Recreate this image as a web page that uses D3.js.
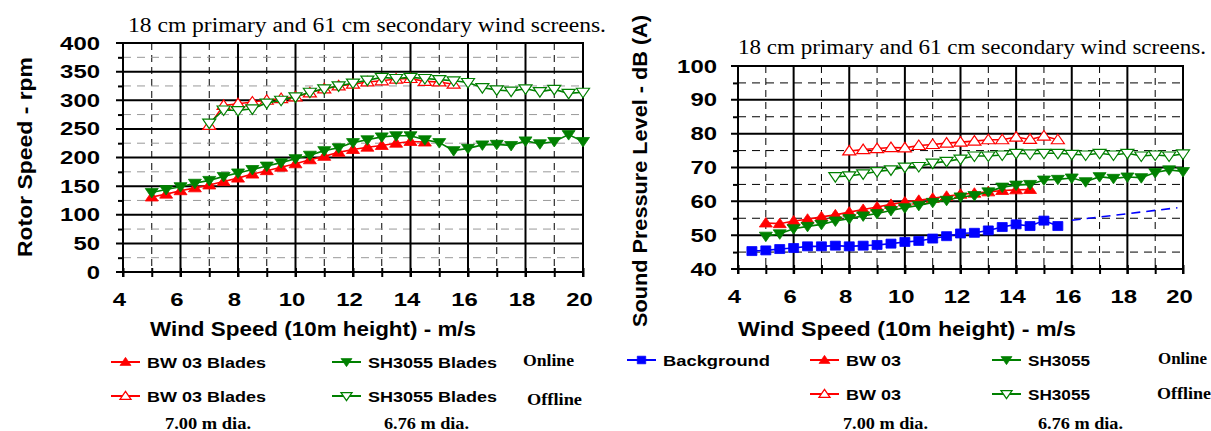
<!DOCTYPE html>
<html>
<head>
<meta charset="utf-8">
<script src="https://cdn.jsdelivr.net/npm/d3@7"></script>
<style>
  body { margin: 0; background: #fff; }
  text { font-family: "Liberation Sans", Arial, sans-serif; }
  .serif { font-family: "Liberation Serif", "Times New Roman", serif; }
</style>
</head>
<body>
<svg id="chart" width="1211" height="431"></svg>
<script>
// DATA
// ---------------------------------------------------------------------------------------------
const windTicks = [4, 6, 8, 10, 12, 14, 16, 18, 20];
const windMinor = [5, 7, 9, 11, 13, 15, 17, 19];
const rotorTicks = [0, 50, 100, 150, 200, 250, 300, 350, 400];
const rotorMinor = [25, 75, 125, 175, 225, 275, 325, 375];
const splTicks = [40, 50, 60, 70, 80, 90, 100];
const splMinor = [45, 55, 65, 75, 85, 95];

// rotor speed (rpm) vs wind speed (m/s)
const rotorBw03Online = [[5,131],[5.5,136],[6,142],[6.5,147],[7,152],[7.5,158],[8,164],[8.5,171],[9,177],[9.5,183],[10,189],[10.5,196],[11,202],[11.5,209],[12,214],[12.5,218],[13,221],[13.5,225],[14,228],[14.5,227]];
const rotorSh3055Online = [[5,139],[5.5,144],[6,149],[6.5,155],[7,160],[7.5,167],[8,173],[8.5,179],[9,185],[9.5,191],[10,198],[10.5,204],[11,212],[11.5,217],[12,226],[12.5,231],[13,236],[13.5,238],[14,238],[14.5,231],[15,226],[15.5,212],[16,216],[16.5,222],[17,223],[17.5,221],[18,229],[18.5,224],[19,228],[19.5,240],[20,228]];
const rotorBw03Offline = [[7,256],[7.5,291],[8,294],[8.5,297],[9,300],[9.5,303],[10,306],[10.5,313],[11,320],[11.5,325],[12,328],[12.5,332],[13,334],[13.5,337],[14,338],[14.5,333],[15,332],[15.5,328]];
const rotorSh3055Offline = [[7,260],[7.5,283],[8,282],[8.5,285],[9,295],[9.5,300],[10,306],[10.5,314],[11,320],[11.5,325],[12,330],[12.5,335],[13,340],[13.5,338],[14,340],[14.5,338],[15,336],[15.5,334],[16,331],[16.5,322],[17,318],[17.5,316],[18,320],[18.5,315],[19,319],[19.5,312],[20,314]];

// sound pressure level dB(A) vs wind speed (m/s)
const splBackground = [[4.5,45.3],[5,45.5],[5.5,45.9],[6,46.2],[6.5,46.7],[7,46.7],[7.5,46.9],[8,46.7],[8.5,46.9],[9,47.1],[9.5,47.5],[10,48.0],[10.5,48.3],[11,49.0],[11.5,49.7],[12,50.5],[12.5,50.7],[13,51.4],[13.5,52.4],[14,53.2],[14.5,52.7],[15,54.3],[15.5,52.7]];
const splBackgroundTrend = [[16,54.4],[19.8,58.1]];
const splBw03Online = [[5,53.6],[5.5,53.4],[6,54.2],[6.5,54.7],[7,55.4],[7.5,56.0],[8,56.8],[8.5,57.6],[9,58.3],[9.5,59.1],[10,59.8],[10.5,60.3],[11,60.9],[11.5,61.5],[12,62.1],[12.5,62.4],[13,62.8],[13.5,63.2],[14,63.4],[14.5,63.5]];
const splSh3055Online = [[5,49.7],[5.5,50.4],[6,51.9],[6.5,52.6],[7,53.2],[7.5,54.2],[8,54.9],[8.5,55.7],[9,56.4],[9.5,57.3],[10,58.1],[10.5,58.8],[11,59.7],[11.5,60.3],[12,61.3],[12.5,61.7],[13,62.8],[13.5,64.2],[14,64.8],[14.5,65.0],[15,66.3],[15.5,66.5],[16,66.9],[16.5,65.8],[17,67.3],[17.5,66.8],[18,67.2],[18.5,67.0],[19,68.5],[19.5,69.3],[20,68.8]];
const splBw03Offline = [[8,74.9],[8.5,75.3],[9,75.6],[9.5,75.9],[10,75.8],[10.5,76.5],[11,76.8],[11.5,77.2],[12,77.5],[12.5,77.8],[13,78.2],[13.5,78.2],[14,79.0],[14.5,78.3],[15,79.3],[15.5,78.2]];
const splSh3055Offline = [[7.5,67.3],[8,67.5],[8.5,68.1],[9,68.8],[9.5,69.3],[10,70.1],[10.5,70.3],[11,71.3],[11.5,71.8],[12,72.5],[12.5,73.4],[13,73.4],[13.5,73.7],[14,74.2],[14.5,74.0],[15,74.2],[15.5,74.2],[16,73.9],[16.5,73.7],[17,74.2],[17.5,73.7],[18,74.2],[18.5,73.4],[19,73.7],[19.5,73.4],[20,74.0]];

const RED = "#ff0000", GREEN = "#008000", BLUE = "#0000ff";
const titleText = "18 cm primary and 61 cm secondary wind screens.";
const xTitleText = "Wind Speed (10m height) - m/s";

// MARKER SHAPES
// ---------------------------------------------------------------------------------------------
const shapes = {
  up: "M0,-5.5L6.5,4L-6.5,4Z",
  down: "M0,5.5L6.5,-4L-6.5,-4Z",
  square: "M-5,-4.5L5,-4.5L5,4.5L-5,4.5Z"
};

const svg = d3.select("#chart");

// PANEL DRAWING
// ---------------------------------------------------------------------------------------------
function panel(o) {
  const x = d3.scaleLinear([4, 20], [o.left, o.right]);
  const y = d3.scaleLinear(o.yDomain, [o.bottom, o.top]);
  const g = svg.append("g");

  // minor dashed grid
  g.selectAll(".vmin").data(windMinor).join("line")
    .attr("x1", d => x(d)).attr("x2", d => x(d))
    .attr("y1", o.top).attr("y2", o.bottom)
    .attr("stroke", "#000").attr("stroke-width", 1).attr("stroke-dasharray", "7,5");
  g.selectAll(".hmin").data(o.yMinor).join("line")
    .attr("x1", o.left).attr("x2", o.right)
    .attr("y1", d => y(d)).attr("y2", d => y(d))
    .attr("stroke", o.hDash).attr("stroke-width", 1).attr("stroke-dasharray", "8,6");

  // small tick marks (every unit / every minor step)
  g.append("g").attr("transform", `translate(0,${o.bottom})`)
    .call(d3.axisBottom(x).ticks(16).tickSize(5).tickFormat(""))
    .call(a => a.select(".domain").remove())
    .selectAll("line").attr("stroke", "#000").attr("stroke-width", 2).attr("y1", -4);
  g.append("g").attr("transform", `translate(${o.left},0)`)
    .call(d3.axisLeft(y).tickValues(o.yMinor).tickSize(5).tickFormat(""))
    .call(a => a.select(".domain").remove())
    .selectAll("line").attr("stroke", "#000").attr("stroke-width", 2);

  // major solid grid
  g.selectAll(".vmaj").data(windTicks).join("line")
    .attr("x1", d => x(d)).attr("x2", d => x(d))
    .attr("y1", o.top - 1).attr("y2", o.bottom + 5)
    .attr("stroke", "#000").attr("stroke-width", 2);
  g.selectAll(".hmaj").data(o.yTicks).join("line")
    .attr("x1", o.left - 7).attr("x2", o.right + 1)
    .attr("y1", d => y(d)).attr("y2", d => y(d))
    .attr("stroke", "#000").attr("stroke-width", 2);

  // tick labels
  g.append("g").attr("transform", `translate(0,${o.bottom})`)
    .call(d3.axisBottom(x).tickValues(windTicks).tickSize(0).tickPadding(21))
    .call(a => a.select(".domain").remove())
    .selectAll("text")
    .attr("dx", -4)
    .attr("font-size", 19).attr("font-weight", "bold").attr("fill", "#000")
    .attr("textLength", d => String(d).length * 13.3).attr("lengthAdjust", "spacingAndGlyphs");
  g.append("g").attr("transform", `translate(${o.left},0)`)
    .call(d3.axisLeft(y).tickValues(o.yTicks).tickSize(0).tickPadding(o.left - o.yLabelRight))
    .call(a => a.select(".domain").remove())
    .selectAll("text")
    .attr("font-size", 19).attr("font-weight", "bold").attr("fill", "#000")
    .attr("textLength", d => String(d).length * 13.3).attr("lengthAdjust", "spacingAndGlyphs");

  // series
  const line = d3.line().x(d => x(d[0])).y(d => y(d[1]));
  o.series.forEach(s => {
    g.append("path").datum(s.data)
      .attr("d", line).attr("fill", "none")
      .attr("stroke", s.color).attr("stroke-width", 1.6)
      .attr("stroke-dasharray", s.dash || null);
    if (!s.shape) return;
    g.selectAll(null).data(s.data).join("path")
      .attr("transform", d => `translate(${x(d[0])},${y(d[1])})`)
      .attr("d", shapes[s.shape])
      .attr("fill", s.open ? "#fff" : s.color)
      .attr("stroke", s.color).attr("stroke-width", s.open ? 1.2 : 0.8);
  });

  // titles
  svg.append("text").attr("class", "serif")
    .attr("x", o.titleX).attr("y", o.titleY)
    .attr("font-size", 20).attr("textLength", o.titleLen).attr("lengthAdjust", "spacingAndGlyphs")
    .text(titleText);
  svg.append("text")
    .attr("x", o.xTitleX).attr("y", 336).attr("text-anchor", "middle")
    .attr("font-size", 21).attr("font-weight", "bold")
    .attr("textLength", o.xTitleLen).attr("lengthAdjust", "spacingAndGlyphs")
    .text(xTitleText);
  svg.append("text")
    .attr("transform", `translate(${o.yTitleX},${o.yTitleY}) rotate(-90)`)
    .attr("text-anchor", "middle")
    .attr("font-size", 21).attr("font-weight", "bold")
    .attr("textLength", o.yTitleLen).attr("lengthAdjust", "spacingAndGlyphs")
    .text(o.yTitle);
}

panel({
  left: 123, right: 583, top: 43, bottom: 272,
  yDomain: [0, 400], yTicks: rotorTicks, yMinor: rotorMinor, hDash: "#999", yLabelRight: 100,
  series: [
    { data: rotorBw03Online, color: RED, shape: "up" },
    { data: rotorSh3055Online, color: GREEN, shape: "down" },
    { data: rotorBw03Offline, color: RED, shape: "up", open: true },
    { data: rotorSh3055Offline, color: GREEN, shape: "down", open: true }
  ],
  titleX: 128, titleY: 32, titleLen: 478,
  xTitleX: 313, xTitleLen: 326,
  yTitleX: 32, yTitleY: 157, yTitleLen: 200, yTitle: "Rotor Speed - rpm"
});

panel({
  left: 738, right: 1183, top: 66, bottom: 269,
  yDomain: [40, 100], yTicks: splTicks, yMinor: splMinor, hDash: "#000", yLabelRight: 717,
  series: [
    { data: splBackgroundTrend, color: BLUE, dash: "9,6" },
    { data: splBackground, color: BLUE, shape: "square" },
    { data: splBw03Online, color: RED, shape: "up" },
    { data: splSh3055Online, color: GREEN, shape: "down" },
    { data: splBw03Offline, color: RED, shape: "up", open: true },
    { data: splSh3055Offline, color: GREEN, shape: "down", open: true }
  ],
  titleX: 738, titleY: 54, titleLen: 468,
  xTitleX: 907, xTitleLen: 338,
  yTitleX: 647, yTitleY: 171, yTitleLen: 312, yTitle: "Sound Pressure Level - dB (A)"
});

// LEGENDS
// ---------------------------------------------------------------------------------------------
const legendItems = [
  { x: 111, y: 362, color: RED, shape: "up", label: "BW 03 Blades", len: 119 },
  { x: 332, y: 362, color: GREEN, shape: "down", label: "SH3055 Blades", len: 129 },
  { x: 111, y: 396, color: RED, shape: "up", open: true, label: "BW 03 Blades", len: 119 },
  { x: 332, y: 396, color: GREEN, shape: "down", open: true, label: "SH3055 Blades", len: 129 },
  { x: 627, y: 360, color: BLUE, shape: "square", label: "Background", len: 107 },
  { x: 810, y: 360, color: RED, shape: "up", label: "BW 03", len: 55 },
  { x: 992, y: 360, color: GREEN, shape: "down", label: "SH3055", len: 62 },
  { x: 810, y: 394, color: RED, shape: "up", open: true, label: "BW 03", len: 55 },
  { x: 992, y: 394, color: GREEN, shape: "down", open: true, label: "SH3055", len: 62 }
];
const lg = svg.append("g");
legendItems.forEach(d => {
  const it = lg.append("g").attr("transform", `translate(${d.x},${d.y})`);
  it.append("line").attr("x1", 0).attr("x2", 29).attr("stroke", d.color).attr("stroke-width", 2);
  it.append("path").attr("transform", "translate(14.5,0) scale(0.85)")
    .attr("d", shapes[d.shape])
    .attr("fill", d.open ? "#fff" : d.color)
    .attr("stroke", d.color).attr("stroke-width", d.open ? 1.5 : 0.8);
  it.append("text").attr("x", 36).attr("y", 5.5)
    .attr("font-size", 15.5).attr("font-weight", "bold")
    .attr("textLength", d.len).attr("lengthAdjust", "spacingAndGlyphs")
    .text(d.label);
});

const notes = [
  { x: 523, y: 366, text: "Online", len: 51 },
  { x: 527, y: 405, text: "Offline", len: 55 },
  { x: 165, y: 429, text: "7.00 m dia.", len: 86 },
  { x: 384, y: 429, text: "6.76 m dia.", len: 85 },
  { x: 1158, y: 364, text: "Online", len: 49 },
  { x: 1157, y: 399, text: "Offline", len: 54 },
  { x: 843, y: 429, text: "7.00 m dia.", len: 85 },
  { x: 1038, y: 429, text: "6.76 m dia.", len: 85 }
];
lg.selectAll(".note").data(notes).join("text")
  .attr("class", "serif")
  .attr("x", d => d.x).attr("y", d => d.y)
  .attr("font-size", 16).attr("font-weight", "bold")
  .attr("textLength", d => d.len).attr("lengthAdjust", "spacingAndGlyphs")
  .text(d => d.text);
</script>
</body>
</html>
